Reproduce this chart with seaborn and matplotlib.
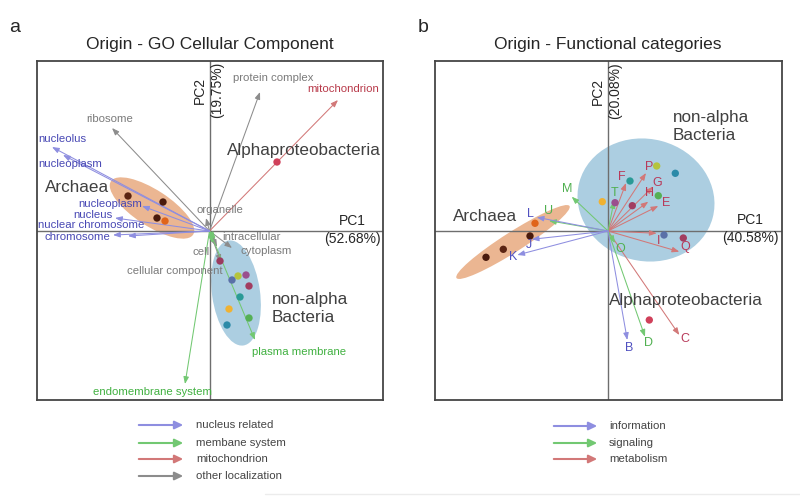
import numpy as np
import pandas as pd
import matplotlib
matplotlib.use("Agg")
import matplotlib.pyplot as plt
import seaborn as sns
from matplotlib.patches import Ellipse

sns.set_style("white")
plt.rcParams["font.family"] = ["Liberation Sans", "DejaVu Sans"]

# ---------------- Panel a: GO Cellular Component ----------------
a_title = "Origin - GO Cellular Component"
a_pc1 = "PC1\n(52.68%)"
a_pc2 = "PC2\n(19.75%)"

# loadings (arrow tips) per category
a_nuc_names = ["nucleolus", "nucleoplasm", "nucleoplasm", "nucleus", "nuclear chromosome", "chromosome"]
a_nuc_x = [-1.575, -1.465, -0.675, -0.945, -0.815, -0.965]
a_nuc_y = [0.84, 0.76, 0.25, 0.13, -0.05, -0.04]
a_nuc_lx = [-1.715, -1.715, -0.675, -0.965, -0.655, -0.995]
a_nuc_ly = [0.92, 0.67, 0.27, 0.16, 0.06, -0.06]
a_nuc_ha = ["left", "left", "right", "right", "right", "right"]

a_oth_names = ["ribosome", "protein complex", "organelle", "intracellular", "cytoplasm", "cell", "cellular component"]
a_oth_x = [-0.975, 0.505, -0.035, 0.055, 0.225, 0.075, 0.115]
a_oth_y = [1.03, 1.39, 0.13, -0.10, -0.17, -0.16, -0.31]
a_oth_lx = [-0.995, 0.635, -0.135, 0.125, 0.305, 0.005, 0.135]
a_oth_ly = [1.12, 1.53, 0.21, -0.06, -0.20, -0.21, -0.40]
a_oth_ha = ["center", "center", "left", "left", "left", "right", "right"]

a_mit_names = ["mitochondrion"]
a_mit_x = [1.285]
a_mit_y = [1.31]
a_mit_lx = [1.335]
a_mit_ly = [1.42]
a_mit_ha = ["center"]

a_mem_names = ["endomembrane system", "plasma membrane", "", ""]
a_mem_x = [-0.245, 0.455, 0.06, 0.03]
a_mem_y = [-1.53, -1.09, -0.08, -0.12]
a_mem_lx = [-0.575, 0.425, 0, 0]
a_mem_ly = [-1.61, -1.21, 0, 0]
a_mem_ha = ["center", "left", "left", "left"]

# scores (genomes)
a_pts_x = [-0.815, -0.465, -0.525, -0.445,
           0.105, 0.285, 0.365, 0.225, 0.395, 0.305, 0.195, 0.395, 0.175,
           0.675]
a_pts_y = [0.35, 0.29, 0.13, 0.10,
           -0.30, -0.45, -0.44, -0.49, -0.55, -0.66, -0.78, -0.87, -0.94,
           0.69]
a_pts_col = ["#5b2412", "#4a1a0c", "#4a1a0c", "#e0641a",
             "#9b3a5e", "#b5c43c", "#9a4f8e", "#5a70a8", "#a23d60", "#2a9a96",
             "#f0b232", "#55b055", "#2b8aa8",
             "#d0405a"]

# ---------------- Panel b: Functional categories ----------------
b_title = "Origin - Functional categories"
b_pc1 = "PC1\n(40.58%)"
b_pc2 = "PC2\n(20.08%)"

b_inf_names = ["L", "J", "K", "B"]
b_inf_x = [-0.713, -0.763, -0.907, 0.193]
b_inf_y = [0.137, -0.083, -0.24, -1.09]
b_inf_lx = [-0.773, -0.79, -0.947, 0.21]
b_inf_ly = [0.17, -0.14, -0.257, -1.167]

b_sig_names = ["M", "U", "T", "O", "D"]
b_sig_x = [-0.363, -0.59, 0.06, 0.07, 0.37]
b_sig_y = [0.343, 0.103, 0.30, -0.12, -1.057]
b_sig_lx = [-0.413, -0.597, 0.063, 0.127, 0.407]
b_sig_ly = [0.417, 0.20, 0.383, -0.183, -1.123]

b_met_names = ["F", "P", "G", "H", "E", "I", "Q", "C"]
b_met_x = [0.18, 0.38, 0.45, 0.403, 0.503, 0.487, 0.713, 0.713]
b_met_y = [0.48, 0.58, 0.443, 0.293, 0.25, -0.023, -0.207, -1.04]
b_met_lx = [0.143, 0.41, 0.487, 0.42, 0.58, 0.503, 0.77, 0.77]
b_met_ly = [0.543, 0.643, 0.477, 0.377, 0.277, -0.10, -0.157, -1.083]

b_pts_x = [-0.73, -0.78, -1.047, -1.22,
           0.487, 0.673, 0.22, 0.07, -0.057, 0.243, 0.503, 0.56, 0.753,
           0.413]
b_pts_y = [0.077, -0.05, -0.183, -0.263,
           0.65, 0.577, 0.50, 0.283, 0.293, 0.253, 0.353, -0.04, -0.07,
           -0.89]
b_pts_col = ["#e0641a", "#4a1a0c", "#5b2412", "#4a1a0c",
             "#b5c43c", "#2b8aa8", "#2a9a96", "#9a4f8e", "#f0b232", "#a23d60",
             "#55b055", "#5a70a8", "#a23d60",
             "#d0405a"]

# legends
a_leg_labels = ["nucleus related", "membane system", "mitochondrion", "other localization"]
b_leg_labels = ["information", "signaling", "metabolism"]

# ---------------- styles ----------------
C_NUC, C_NUC_T = "#8e8ee0", "#4848b4"
C_MEM, C_MEM_T = "#72c872", "#40b040"
C_MIT, C_MIT_T = "#d27878", "#b83a4a"
C_OTH, C_OTH_T = "#8c8c8c", "#7a7a7a"
LBL = 8.2

W, H = 800, 497
fig = plt.figure(figsize=(W / 100, H / 100), dpi=100)
axA = fig.add_axes([37 / W, 97 / H, 346 / W, 339 / H])
axB = fig.add_axes([435 / W, 97 / H, 347 / W, 339 / H])


def setup(ax, xlim, ylim):
    ax.set_xlim(*xlim)
    ax.set_ylim(*ylim)
    ax.set_xticks([])
    ax.set_yticks([])
    ax.set_xlabel("")
    ax.set_ylabel("")
    for s in ax.spines.values():
        s.set_visible(True)
        s.set_color("#454545")
        s.set_linewidth(1.3)
    ax.axhline(0, color="#6e6e6e", lw=1.0, zorder=1)
    ax.axvline(0, color="#6e6e6e", lw=1.0, zorder=1)


def arrows(ax, xs, ys, color):
    for x, y in zip(xs, ys):
        ax.annotate("", xy=(x, y), xytext=(0, 0),
                    arrowprops=dict(arrowstyle="-|>,head_length=0.42,head_width=0.16",
                                    color=color, lw=0.75, shrinkA=0, shrinkB=0),
                    zorder=2)


def labels(ax, names, lx, ly, color, has=None, size=LBL):
    for i, (n, x, y) in enumerate(zip(names, lx, ly)):
        if not n:
            continue
        ha = has[i] if has else "center"
        ax.text(x, y, n, color=color, fontsize=size, ha=ha, va="center", zorder=4)


def points(ax, xs, ys, cols):
    df = pd.DataFrame({"x": xs, "y": ys, "id": [str(i) for i in range(len(xs))]})
    sns.scatterplot(data=df, x="x", y="y", hue="id", palette=cols, s=28,
                    edgecolor="none", legend=False, ax=ax, zorder=3)
    ax.set_xlabel("")
    ax.set_ylabel("")


# ---- panel a ----
axA.add_patch(Ellipse((-0.575, 0.23), 0.98, 0.36, angle=-33, facecolor="#e9ae86",
                      edgecolor="none", alpha=0.9, zorder=0.5))
axA.add_patch(Ellipse((0.265, -0.62), 0.48, 1.06, angle=8, facecolor="#a3c9de",
                      edgecolor="none", alpha=0.9, zorder=0.5))
arrows(axA, a_oth_x, a_oth_y, C_OTH)
arrows(axA, a_mit_x, a_mit_y, C_MIT)
arrows(axA, a_mem_x, a_mem_y, C_MEM)
arrows(axA, a_nuc_x, a_nuc_y, C_NUC)
points(axA, a_pts_x, a_pts_y, a_pts_col)
setup(axA, (-1.725, 1.735), (-1.69, 1.70))
labels(axA, a_nuc_names, a_nuc_lx, a_nuc_ly, C_NUC_T, a_nuc_ha)
labels(axA, a_oth_names, a_oth_lx, a_oth_ly, C_OTH_T, a_oth_ha)
labels(axA, a_mit_names, a_mit_lx, a_mit_ly, C_MIT_T, a_mit_ha)
labels(axA, a_mem_names, a_mem_lx, a_mem_ly, C_MEM_T, a_mem_ha)
axA.text(-1.645, 0.433, "Archaea", fontsize=12.3, color="#404040", ha="left", va="center")
axA.text(0.175, 0.81, "Alphaproteobacteria", fontsize=12.3, color="#404040", ha="left", va="center")
axA.text(0.625, -0.775, "non-alpha\nBacteria", fontsize=12.3, color="#404040", ha="left",
         va="center", linespacing=1.25)
axA.text(1.425, 0.01, a_pc1, fontsize=10, ha="center", va="center", multialignment="center",
         linespacing=1.3)
axA.text(-0.01, 1.41, a_pc2, fontsize=10, ha="center", va="center", rotation=90,
         multialignment="center", linespacing=1.3)

# ---- panel b ----
axB.add_patch(Ellipse((-0.95, -0.11), 1.34, 0.2, angle=32.5, facecolor="#e9ae86",
                      edgecolor="none", alpha=0.9, zorder=0.5))
axB.add_patch(Ellipse((0.38, 0.31), 1.38, 1.22, angle=-15, facecolor="#a3c9de",
                      edgecolor="none", alpha=0.9, zorder=0.5))
arrows(axB, b_met_x, b_met_y, C_MIT)
arrows(axB, b_sig_x, b_sig_y, C_MEM)
arrows(axB, b_inf_x, b_inf_y, C_NUC)
points(axB, b_pts_x, b_pts_y, b_pts_col)
setup(axB, (-1.73, 1.74), (-1.69, 1.70))
labels(axB, b_inf_names, b_inf_lx, b_inf_ly, "#5050c0", size=9)
labels(axB, b_sig_names, b_sig_lx, b_sig_ly, "#50b050", size=9)
labels(axB, b_met_names, b_met_lx, b_met_ly, "#b83a5a", size=9)
axB.text(-1.55, 0.143, "Archaea", fontsize=12.3, color="#404040", ha="left", va="center")
axB.text(0.013, -0.69, "Alphaproteobacteria", fontsize=12.3, color="#404040", ha="left", va="center")
axB.text(0.65, 1.043, "non-alpha\nBacteria", fontsize=12.3, color="#404040", ha="left",
         va="center", linespacing=1.25)
axB.text(1.42, 0.02, b_pc1, fontsize=10, ha="center", va="center", multialignment="center",
         linespacing=1.3)
axB.text(-0.015, 1.40, b_pc2, fontsize=10, ha="center", va="center", rotation=90,
         multialignment="center", linespacing=1.3)

# ---- titles and panel letters ----
def fx(px):
    return px / W


def fy(py):
    return 1 - py / H


fig.text(fx(210), fy(44), a_title, fontsize=12.5, ha="center", va="center")
fig.text(fx(608), fy(44), b_title, fontsize=12.5, ha="center", va="center")
fig.text(fx(15), fy(27), "a", fontsize=14, ha="center", va="center")
fig.text(fx(423), fy(27), "b", fontsize=14, ha="center", va="center")

# ---- legends ----
def legend(x0, x1, xt, ys, names, cols):
    for y, n, c in zip(ys, names, cols):
        fig.add_artist(matplotlib.patches.FancyArrowPatch(
            (fx(x0), fy(y)), (fx(x1), fy(y)), transform=fig.transFigure,
            arrowstyle="-|>,head_length=5,head_width=2.4", color=c, lw=1.5,
            mutation_scale=1))
        fig.text(fx(xt), fy(y), n, fontsize=8.2, color="#444444", ha="left", va="center")


legend(136, 186, 196, [425, 443, 459, 476], a_leg_labels, [C_NUC, C_MEM, C_MIT, C_OTH])
legend(551, 600, 609, [426, 443, 459], b_leg_labels, [C_NUC, C_MEM, C_MIT])

fig.add_artist(matplotlib.lines.Line2D([fx(265), fx(800)], [fy(494), fy(494)],
                                       transform=fig.transFigure, color="#ececec", lw=1))

fig.savefig("out.png", dpi=100)
